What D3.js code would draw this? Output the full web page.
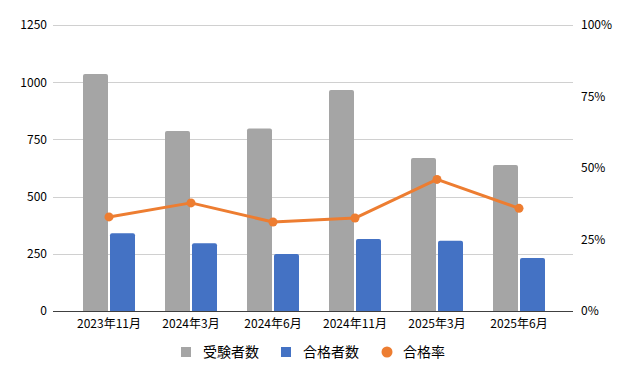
<!DOCTYPE html>
<html>
<head>
<meta charset="utf-8">
<script src="https://cdn.jsdelivr.net/npm/d3@7"></script>
<style>
  body { margin: 0; background: #fff; }
  svg text { font-family: "Noto Sans CJK JP", "Noto Sans", sans-serif; fill: #000; }
</style>
</head>
<body>
<div id="chart"></div>
<script>
// data
var sessions = ["2023年11月", "2024年3月", "2024年6月", "2024年11月", "2025年3月", "2025年6月"];
var examinees = [1036, 787, 798, 966, 669, 638];   // 受験者数
var passers = [340, 296, 249, 315, 307, 232];      // 合格者数
var passRate = [0.329, 0.378, 0.311, 0.325, 0.460, 0.359]; // 合格率
var countTicks = [0, 250, 500, 750, 1000, 1250];
var rateTicks = [0, 0.25, 0.5, 0.75, 1];

var w = 631, h = 381;
var grey = "#a5a5a5", blue = "#4472c4", orange = "#ed7d31";

var svg = d3.select("#chart").append("svg").attr("width", w).attr("height", h);

// plot area
var plotLeft = 53, plotRight = 573, plotTop = 25, plotBottom = 311;

var x = d3.scaleBand().domain(sessions).range([68, 560]);
var y = d3.scaleLinear().domain([0, 1250]).range([plotBottom, plotTop]);
var yR = d3.scaleLinear().domain([0, 1]).range([plotBottom, plotTop]);

function styleText(g) {
  g.select(".domain").remove();
  g.selectAll("text").attr("font-size", 12)
    .attr("font-family", "Noto Sans CJK JP, Noto Sans, sans-serif").attr("fill", "#000");
}

// gridlines
svg.append("g").selectAll("line")
  .data(countTicks.slice(1))
  .enter().append("line")
  .attr("x1", plotLeft).attr("x2", plotRight)
  .attr("y1", function(d) { return Math.round(y(d)) + 0.5; })
  .attr("y2", function(d) { return Math.round(y(d)) + 0.5; })
  .attr("stroke", "#d0d0d0").attr("stroke-width", 1);

// left axis labels
svg.append("g").attr("transform", "translate(" + plotLeft + ",0)")
  .call(d3.axisLeft(y).tickValues(countTicks).tickFormat(d3.format("d")).tickSize(0).tickPadding(6))
  .call(styleText);

// right axis labels
svg.append("g").attr("transform", "translate(" + plotRight + ",0)")
  .call(d3.axisRight(yR).tickValues(rateTicks).tickFormat(d3.format(".0%")).tickSize(0).tickPadding(8))
  .call(styleText);

// bars
var barW = 25, gap = 2;
function barPath(x0, y0, bw, y1) {
  var r = 2;
  return "M" + x0 + "," + y1 + "V" + (y0 + r) + "Q" + x0 + "," + y0 + " " + (x0 + r) + "," + y0 +
    "H" + (x0 + bw - r) + "Q" + (x0 + bw) + "," + y0 + " " + (x0 + bw) + "," + (y0 + r) + "V" + y1 + "Z";
}
function center(d) { return x(d) + x.bandwidth() / 2; }

svg.append("g").selectAll("path")
  .data(sessions)
  .enter().append("path")
  .attr("d", function(d, i) { return barPath(center(d) - gap / 2 - barW, y(examinees[i]), barW, plotBottom); })
  .attr("fill", grey);

svg.append("g").selectAll("path")
  .data(sessions)
  .enter().append("path")
  .attr("d", function(d, i) { return barPath(center(d) + gap / 2, y(passers[i]), barW, plotBottom); })
  .attr("fill", blue);

// baseline
svg.append("line")
  .attr("x1", plotLeft).attr("x2", plotRight)
  .attr("y1", plotBottom + 0.5).attr("y2", plotBottom + 0.5)
  .attr("stroke", "#404040").attr("stroke-width", 1);

// x labels
svg.append("g").attr("transform", "translate(0," + plotBottom + ")")
  .call(d3.axisBottom(x).tickSize(0).tickPadding(8))
  .call(styleText);

// pass rate line
var line = d3.line()
  .x(function(d, i) { return center(sessions[i]); })
  .y(function(d) { return yR(d); });

svg.append("path")
  .datum(passRate)
  .attr("d", line)
  .attr("fill", "none").attr("stroke", orange).attr("stroke-width", 3)
  .attr("stroke-linejoin", "round");

svg.append("g").selectAll("circle")
  .data(passRate)
  .enter().append("circle")
  .attr("cx", function(d, i) { return center(sessions[i]); })
  .attr("cy", function(d) { return yR(d); })
  .attr("r", 4.5)
  .attr("fill", orange);

// legend
var legend = [
  { name: "受験者数", color: grey, shape: "rect", x: 181 },
  { name: "合格者数", color: blue, shape: "rect", x: 281 },
  { name: "合格率", color: orange, shape: "circle", x: 381 }
];
var lg = svg.append("g").selectAll("g").data(legend).enter().append("g")
  .attr("transform", function(d) { return "translate(" + d.x + ",352)"; });
lg.filter(function(d) { return d.shape === "rect"; }).append("rect")
  .attr("x", 0).attr("y", -5).attr("width", 10).attr("height", 10)
  .attr("fill", function(d) { return d.color; });
lg.filter(function(d) { return d.shape === "circle"; }).append("circle")
  .attr("cx", 6).attr("cy", 0).attr("r", 5.5)
  .attr("fill", function(d) { return d.color; });
lg.append("text")
  .attr("x", 22).attr("y", 0).attr("dy", "0.35em")
  .attr("font-size", 14)
  .text(function(d) { return d.name; });
</script>
</body>
</html>
